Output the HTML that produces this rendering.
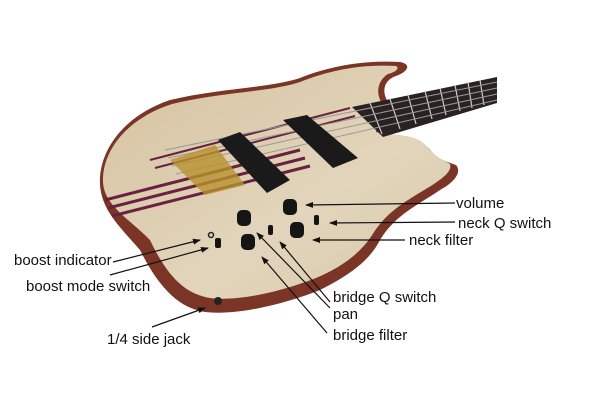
<!DOCTYPE html>
<html><head><meta charset="utf-8"><style>
html,body{margin:0;padding:0;background:#fff;}
svg{display:block;}
text{font-family:"Liberation Sans",sans-serif;font-size:15px;fill:#111;}
</style></head><body>
<svg width="600" height="420" viewBox="0 0 600 420">
<defs>
<marker id="a" markerWidth="8" markerHeight="6" refX="7" refY="3" orient="auto" markerUnits="userSpaceOnUse"><path d="M0,0 L8,3 L0,6 z" fill="#111"/></marker>
<linearGradient id="g" x1="0" y1="0" x2="1" y2="1"><stop offset="0" stop-color="#d6c2a0"/><stop offset="0.6" stop-color="#e2d5bb"/><stop offset="1" stop-color="#d9c9aa"/></linearGradient>
</defs>
<!-- body edge -->
<path d="M100,185 C98,150 125,115 170,100 C220,88 270,88 300,78 C330,66 365,60 400,62 C412,64 408,72 396,76 C384,80 380,92 390,105 L380,137 C395,140 420,136 430,150 C438,160 448,162 456,165 C462,172 455,182 440,190 C418,205 395,215 380,240 C370,260 350,275 320,290 C290,302 240,316 205,312 C180,308 160,290 140,250 C118,225 102,210 100,185 Z" fill="#7a3526"/>
<!-- top face -->
<path d="M103,182 C102,150 128,118 172,104 C222,92 270,92 300,82 C330,70 362,64 396,66 C400,68 396,72 388,74 C378,80 374,94 384,106 L376,132 C394,136 418,133 428,148 C436,158 444,160 450,164 C452,170 446,176 434,184 C412,198 390,208 374,232 C362,252 344,266 316,278 C286,290 240,302 210,298 C186,294 168,278 150,240 C128,218 104,205 103,182 Z" fill="url(#g)"/>
<!-- stripes -->
<path d="M105,200 L300,150 M108,208 L305,158 M112,216 L310,166" stroke="#6a2040" stroke-width="3"/>
<path d="M150,160 L350,108 M155,168 L355,116" stroke="#6a2040" stroke-width="2"/>
<!-- neck -->
<path d="M352,107 L497,77 L497,103 L383,137 Z" fill="#2a2222"/>
<path d="M370,103 L382,134 M390,99 L400,129 M408,95 L416,124 M425,91 L432,119 M440,88 L446,115 M455,85 L460,111 M468,82 L472,108 M480,80 L484,105" stroke="#ccc" stroke-width="1.2"/>
<!-- strings -->
<path d="M165,150 L497,82 M168,158 L497,88 M172,166 L497,94 M176,174 L497,100" stroke="#999" stroke-width="1"/>
<!-- pickups -->
<path d="M218,140 L240,132 L290,180 L267,193 Z" fill="#1a1a1a"/>
<path d="M283,120 L307,115 L358,158 L333,168 Z" fill="#1a1a1a"/>
<!-- bridge -->
<path d="M170,160 L215,145 L245,185 L205,195 Z" fill="#b8922e" opacity="0.8"/>
<!-- knobs -->
<g fill="#151515">
<rect x="237" y="210" width="14" height="16" rx="5"/><rect x="283" y="199" width="14" height="16" rx="5"/>
<rect x="290" y="222" width="14" height="16" rx="5"/><rect x="241" y="234" width="14" height="16" rx="5"/>
<rect x="268" y="225" width="5" height="10" rx="2"/><rect x="314" y="215" width="5" height="10" rx="2"/>
<rect x="215" y="238" width="6" height="10" rx="2"/>
</g>
<circle cx="211" cy="235" r="2.5" fill="none" stroke="#222" stroke-width="1.5"/>
<circle cx="218" cy="301" r="4" fill="#222"/>
<!-- leader lines -->
<g stroke="#111" stroke-width="1.2" fill="none" marker-end="url(#a)">
<line x1="455" y1="203" x2="306" y2="205"/>
<line x1="455" y1="222" x2="330" y2="223"/>
<line x1="405" y1="240" x2="313" y2="240"/>
<line x1="113" y1="262" x2="200" y2="240"/>
<line x1="110" y1="275" x2="208" y2="248"/>
<line x1="152" y1="327" x2="205" y2="308"/>
<line x1="330" y1="302" x2="280" y2="242"/>
<line x1="330" y1="308" x2="257" y2="233"/>
<line x1="327" y1="333" x2="262" y2="257"/>
</g>
<text x="456" y="208">volume</text>
<text x="458" y="228">neck Q switch</text>
<text x="409" y="245">neck filter</text>
<text x="14" y="265">boost indicator</text>
<text x="26" y="291">boost mode switch</text>
<text x="107" y="344">1/4 side jack</text>
<text x="333" y="302">bridge Q switch</text>
<text x="333" y="319">pan</text>
<text x="333" y="340">bridge filter</text>
</svg>
</body></html>
